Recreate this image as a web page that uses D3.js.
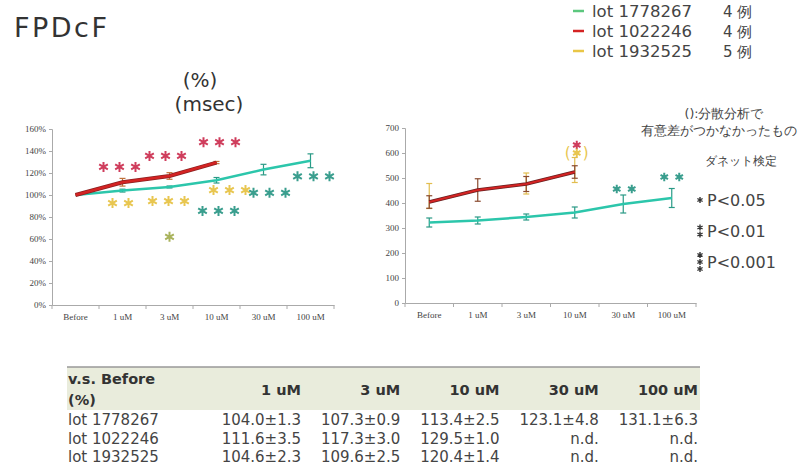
<!DOCTYPE html>
<html>
<head>
<meta charset="utf-8">
<script src="https://cdn.jsdelivr.net/npm/d3@7"></script>
<style>
  body { margin: 0; background: #fff; }
  svg { display: block; font-family: "DejaVu Sans", sans-serif; }
</style>
</head>
<body>
<svg id="chart" width="798" height="472"></svg>
<script>
// categories (x axis of both charts)
var cats = ["Before", "1 uM", "3 uM", "10 uM", "30 uM", "100 uM"];

// left chart: % of Before (mean, SEM)
var pctTeal = [100, 104.0, 107.3, 113.4, 123.1, 131.1];
var pctTealErr = [0, 1.3, 0.9, 2.5, 4.8, 6.3];
var pctRed = [100, 111.6, 117.3, 129.5];
var pctRedErr = [0, 3.5, 3.0, 1.0];
var pctYellow = [100, 104.6, 109.6, 120.4];
var pctYellowErr = [0, 2.3, 2.5, 1.4];

// right chart: msec
var msTeal = [322, 330, 344, 362, 396, 420];
var msTealErr = [18, 14, 12, 22, 36, 38];
var msRed = [404, 452, 476, 524];
var msRedErr = [25, 45, 30, 25];
var msYellow = [428, null, 478, 532];
var msYellowErr = [50, 0, 42, 50];

// legend
var lots = ["lot 1778267", "lot 1022246", "lot 1932525"];
var counts = ["4 例", "4 例", "5 例"];

// significance marks: series, category, y value, number of stars, x nudge
var starsPct = [
  {s: "red", cat: "1 uM", v: 125.5, n: 3, dx: -3},
  {s: "red", cat: "3 uM", v: 135.5, n: 3, dx: -4},
  {s: "red", cat: "10 uM", v: 148, n: 3, dx: 3},
  {s: "yellow", cat: "1 uM", v: 92.7, n: 2, dx: -2},
  {s: "yellow", cat: "3 uM", v: 94.5, n: 3, dx: -1},
  {s: "yellow", cat: "10 uM", v: 104.5, n: 3, dx: 13},
  {s: "olive", cat: "3 uM", v: 62, n: 1, dx: 0},
  {s: "teal", cat: "10 uM", v: 85.5, n: 3, dx: 2},
  {s: "teal", cat: "30 uM", v: 102, n: 3, dx: 6},
  {s: "teal", cat: "100 uM", v: 117, n: 3, dx: 3}
];
var starsMs = [
  {s: "red", cat: "10 uM", v: 632, n: 1, dx: 2},
  {s: "yellow", cat: "10 uM", v: 600, n: 1, dx: 2, paren: true},
  {s: "teal", cat: "30 uM", v: 456, n: 2, dx: 1},
  {s: "teal", cat: "100 uM", v: 504, n: 2, dx: 0}
];

var colors = {teal: "#2cc6ab", red: "#d42323", yellow: "#e9c646", olive: "#a9b35c"};
var starColors = {teal: "#3a9e8e", red: "#cf3d5c", yellow: "#e8c650", olive: "#a9b35c"};
var legendColors = ["#5cc77e", "#d42323", "#e9c646"];

var svg = d3.select("#chart");

// title
svg.append("text").attr("x", 14).attr("y", 37)
  .attr("font-size", 27).attr("letter-spacing", 2.5).attr("fill", "#333").text("FPDcF");
svg.append("text").attr("x", 200).attr("y", 87).attr("text-anchor", "middle")
  .attr("font-size", 20).attr("fill", "#333").text("(%)");
svg.append("text").attr("x", 209).attr("y", 111).attr("text-anchor", "middle")
  .attr("font-size", 20).attr("fill", "#333").text("(msec)");

// legend
var leg = svg.append("g");
lots.forEach(function(name, i) {
  var y = 11 + i * 20;
  leg.append("line").attr("x1", 573).attr("x2", 584).attr("y1", y).attr("y2", y)
    .attr("stroke", legendColors[i]).attr("stroke-width", 2.5);
  leg.append("text").attr("x", 592).attr("y", y + 6).attr("font-size", 16.5)
    .attr("fill", "#444").text(name);
  leg.append("text").attr("x", 723).attr("y", y + 6).attr("font-size", 15)
    .attr("fill", "#444").text(counts[i]);
});

function star(g, cx, cy, r, color, w) {
  g.append("path")
    .attr("transform", "translate(" + cx + "," + cy + ")")
    .attr("d", d3.symbol(d3.symbolAsterisk, r * r * 2.8)())
    .attr("stroke", color).attr("stroke-width", w || 2).attr("fill", "none");
}

function drawChart(opt) {
  var g = svg.append("g");
  var xb = d3.scaleBand(cats, opt.xr);
  var xc = function(c) { return xb(c) + xb.bandwidth() / 2; };
  var y = d3.scaleLinear(opt.dom, opt.yr);

  var ya = g.append("g").attr("transform", "translate(" + opt.xr[0] + ",0)")
    .call(d3.axisLeft(y).tickValues(opt.ticks).tickFormat(opt.fmt).tickSize(3));
  var xa = g.append("g").attr("transform", "translate(0," + opt.yr[0] + ")")
    .call(d3.axisBottom(xb).tickSize(0).tickPadding(9));
  [ya, xa].forEach(function(a) {
    a.select(".domain").attr("stroke", "#aaa");
    a.selectAll(".tick line").attr("stroke", "#aaa");
    a.selectAll("text").attr("font-family", "Liberation Serif, serif")
      .attr("font-size", 9).attr("fill", "#444");
  });
  // category boundary ticks
  g.selectAll(".btick").data(cats.concat([null])).join("line")
    .attr("x1", function(d, i) { return opt.xr[0] + i * xb.step(); })
    .attr("x2", function(d, i) { return opt.xr[0] + i * xb.step(); })
    .attr("y1", opt.yr[0]).attr("y2", opt.yr[0] + 4).attr("stroke", "#aaa");

  var line = d3.line().defined(function(d) { return d != null; })
    .x(function(d, i) { return xc(cats[i]); }).y(function(d) { return y(d); });

  opt.series.forEach(function(s) {
    // error bars
    s.vals.forEach(function(v, i) {
      if (v == null || !s.err[i]) return;
      var cx = xc(cats[i]);
      var eb = g.append("g").attr("stroke", s.ebColor).attr("stroke-width", 1.2);
      eb.append("line").attr("x1", cx).attr("x2", cx)
        .attr("y1", y(v - s.err[i])).attr("y2", y(v + s.err[i]));
      [v - s.err[i], v + s.err[i]].forEach(function(e) {
        eb.append("line").attr("x1", cx - 3).attr("x2", cx + 3)
          .attr("y1", y(e)).attr("y2", y(e));
      });
    });
    if (s.line) {
      if (s.outline) {
        g.append("path").datum(s.vals).attr("d", line).attr("fill", "none")
          .attr("stroke", s.outline).attr("stroke-width", s.w + 1.5);
      }
      g.append("path").datum(s.vals).attr("d", line).attr("fill", "none")
        .attr("stroke", s.color).attr("stroke-width", s.w);
    }
  });

  opt.stars.forEach(function(a) {
    var cx = xc(a.cat) + a.dx, cy = y(a.v);
    for (var k = 0; k < a.n; k++) {
      star(g, cx + (k - (a.n - 1) / 2) * opt.starGap, cy, opt.starR, starColors[a.s]);
    }
    if (a.paren) {
      g.append("text").attr("x", cx - 9).attr("y", cy + 5).attr("text-anchor", "middle")
        .attr("font-size", 15).attr("fill", starColors[a.s]).text("(");
      g.append("text").attr("x", cx + 9).attr("y", cy + 5).attr("text-anchor", "middle")
        .attr("font-size", 15).attr("fill", starColors[a.s]).text(")");
    }
  });
}

drawChart({
  xr: [52, 334], yr: [305, 129], dom: [0, 160],
  ticks: d3.range(0, 161, 20), fmt: function(d) { return d + "%"; },
  starGap: 16, starR: 5,
  series: [
    {vals: pctTeal, err: pctTealErr, color: colors.teal, ebColor: "#2a9a86", line: true, w: 2.5},
    {vals: pctRed, err: pctRedErr, color: colors.red, ebColor: "#c0703a", line: true, w: 2.5, outline: "#8a2020"}
  ],
  stars: starsPct
});

drawChart({
  xr: [405, 696], yr: [303, 128], dom: [0, 700],
  ticks: d3.range(0, 701, 100), fmt: d3.format("d"),
  starGap: 15, starR: 4.3,
  series: [
    {vals: msYellow, err: msYellowErr, color: colors.yellow, ebColor: "#e2bd4e", line: false},
    {vals: msTeal, err: msTealErr, color: colors.teal, ebColor: "#2a9a86", line: true, w: 2.5},
    {vals: msRed, err: msRedErr, color: colors.red, ebColor: "#8a4a30", line: true, w: 2.2, outline: "#6a2020"}
  ],
  stars: starsMs
});

// notes on the right
var notes = svg.append("g").attr("fill", "#444");
notes.append("text").attr("x", 724).attr("y", 118).attr("text-anchor", "middle")
  .attr("font-size", 12.5).text("():分散分析で");
notes.append("text").attr("x", 719).attr("y", 135).attr("text-anchor", "middle")
  .attr("font-size", 12.5).text("有意差がつかなかったもの");
notes.append("text").attr("x", 741).attr("y", 165).attr("text-anchor", "middle")
  .attr("font-size", 12).text("ダネット検定");
var pLabels = ["P<0.05", "P<0.01", "P<0.001"];
pLabels.forEach(function(t, i) {
  var yy = 200 + i * 31;
  notes.append("text").attr("x", 707).attr("y", yy + 6).attr("font-size", 16).text(t);
  for (var k = 0; k <= i; k++) {
    star(notes, 700, yy - i * 3.5 + k * 7, 3, "#333", 1.4);
  }
});

// table
var tableCols = cats.slice(1);
var colRight = d3.scalePoint(tableCols, [301, 698]);
var rowsPct = [[pctTeal, pctTealErr], [pctRed, pctRedErr], [pctYellow, pctYellowErr]];
var tbl = svg.append("g");
tbl.append("rect").attr("x", 67).attr("y", 367).attr("width", 633).attr("height", 43)
  .attr("fill", "#e9ecdc");
tbl.append("line").attr("x1", 67).attr("x2", 700).attr("y1", 367).attr("y2", 367)
  .attr("stroke", "#999").attr("stroke-width", 1.5);
tbl.append("text").attr("x", 68).attr("y", 384).attr("font-size", 14.5)
  .attr("font-weight", "bold").attr("fill", "#333").text("v.s. Before");
tbl.append("text").attr("x", 68).attr("y", 405).attr("font-size", 14.5)
  .attr("font-weight", "bold").attr("fill", "#333").text("(%)");
tbl.selectAll(".colh").data(tableCols).join("text")
  .attr("x", function(d) { return colRight(d); }).attr("y", 395)
  .attr("text-anchor", "end").attr("font-size", 14.5).attr("font-weight", "bold")
  .attr("fill", "#333").text(function(d) { return d; });
rowsPct.forEach(function(r, i) {
  var yy = 425 + i * 18.5;
  tbl.append("text").attr("x", 68).attr("y", yy).attr("font-size", 15)
    .attr("fill", "#444").text(lots[i]);
  tableCols.forEach(function(c, j) {
    var v = r[0][j + 1];
    var txt = v == null ? "n.d." : v.toFixed(1) + "±" + r[1][j + 1].toFixed(1);
    tbl.append("text").attr("x", colRight(c)).attr("y", yy).attr("text-anchor", "end")
      .attr("font-size", 15).attr("fill", "#444").text(txt);
  });
});
</script>
</body>
</html>
